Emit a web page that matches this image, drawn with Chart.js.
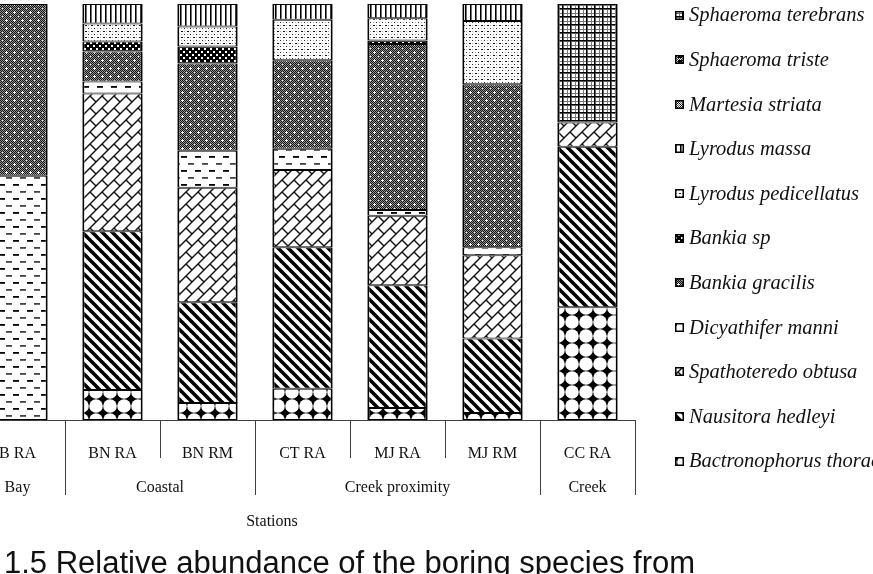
<!DOCTYPE html>
<html>
<head>
<meta charset="utf-8">
<script src="https://cdn.jsdelivr.net/npm/chart.js@4.4.1/dist/chart.umd.min.js"></script>
<style>
  html,body{margin:0;padding:0;background:#fff;overflow:hidden;width:873px;height:574px;}
  #wrap{position:absolute;left:-30px;top:0;width:903px;height:574px;}
  #title{position:absolute;left:4px;top:545px;font:31px "Liberation Sans",Arial,sans-serif;color:#111;white-space:nowrap;line-height:36px;}
</style>
</head>
<body>
<div id="wrap"><canvas id="c" width="903" height="574" style="width:903px;height:574px"></canvas></div>
<div id="title">1.5 Relative abundance of the boring species from</div>
<script>
// ---------- data ----------
const categories = ['B RA','BN RA','BN RM','CT RA','MJ RA','MJ RM','CC RA'];
const groupNames = ['Bay','Coastal','Creek proximity','Creek'];
const groupSizes = [1,2,3,1];
const axisTitle = 'Stations';

// series listed bottom-of-stack first (values in %)
const bactronophorusThoracites = [0, 7.2, 4.1, 7.5, 2.9, 1.7, 27.1];
const nausitoraHedleyi         = [0, 38.2, 24.2, 34.0, 29.5, 17.9, 38.6];
const spathoteredoObtusa       = [0, 33.1, 27.5, 18.6, 16.7, 20.0, 5.8];
const dicyathiferManni         = [58.7, 2.9, 8.9, 5.1, 1.4, 1.9, 0];
const bankiaGracilis           = [41.3, 7.2, 21.0, 21.3, 39.9, 39.2, 0];
const bankiaSp                 = [0, 2.4, 4.1, 0, 0.8, 0, 0];
const lyrodusPedicellatus      = [0, 4.3, 4.8, 9.7, 5.4, 15.2, 0];
const lyrodusMassa             = [0, 4.7, 5.4, 3.8, 3.4, 4.1, 0];
const martesiaStriata          = [0, 0, 0, 0, 0, 0, 0];
const sphaeromaTriste          = [0, 0, 0, 0, 0, 0, 0];
const sphaeromaTerebrans       = [0, 0, 0, 0, 0, 0, 28.5];

const seriesNames = ['Bactronophorus thoracites','Nausitora hedleyi','Spathoteredo obtusa','Dicyathifer manni',
  'Bankia gracilis','Bankia sp','Lyrodus pedicellatus','Lyrodus massa','Martesia striata','Sphaeroma triste','Sphaeroma terebrans'];
const seriesValues = [bactronophorusThoracites,nausitoraHedleyi,spathoteredoObtusa,dicyathiferManni,
  bankiaGracilis,bankiaSp,lyrodusPedicellatus,lyrodusMassa,martesiaStriata,sphaeromaTriste,sphaeromaTerebrans];

// ---------- patterns ----------
function tile(w,h,draw){const c=document.createElement('canvas');c.width=w;c.height=h;const g=c.getContext('2d');g.fillStyle='#fff';g.fillRect(0,0,w,h);draw(g,w,h);return g.createPattern(c,'repeat');}
function pixels(w,h,fn){return tile(w,h,(g)=>{const im=g.getImageData(0,0,w,h);for(let y=0;y<h;y++)for(let x=0;x<w;x++){const v=fn(x,y);const i=(y*w+x)*4;im.data[i]=im.data[i+1]=im.data[i+2]=v;im.data[i+3]=255;}g.putImageData(im,0,0);});}
const patterns = [
  // Bactronophorus: black stars between white circles
  tile(14,14,(g,s)=>{g.fillStyle='#000';g.fillRect(0,0,s,s);g.fillStyle='#fff';[[0,0],[s,0],[0,s],[s,s]].forEach(([a,b])=>{g.beginPath();g.arc(a,b,6.8,0,Math.PI*2);g.fill();});}),
  // Nausitora: wide downward diagonal stripes
  tile(10,10,(g,s)=>{g.strokeStyle='#000';g.lineWidth=3.6;for(const o of [-s,0,s]){g.beginPath();g.moveTo(o-1,-1);g.lineTo(o+s+1,s+1);g.stroke();}}),
  // Spathoteredo: diagonal brick
  tile(12,12,(g,s)=>{g.strokeStyle='#111';g.lineWidth=1.4;for(const o of [0,s,2*s]){g.beginPath();g.moveTo(o-s-1,s+1);g.lineTo(o+1,-1);g.stroke();}g.beginPath();g.moveTo(0,0);g.lineTo(s/2,s/2);g.stroke();}),
  // Dicyathifer: staggered dashes
  tile(14,14,(g)=>{g.fillStyle='#000';g.fillRect(1,2,6,1.8);g.fillStyle='#444';g.fillRect(8,9,6,1.8);}),
  // Bankia gracilis: dense grey with white crosses
  pixels(8,8,(x,y)=>{ if((x===4&&y>=3&&y<=5)||(y===4&&x>=3&&x<=5)) return 255; if(x===0&&y===0) return 255; return ((x+y)%2===0)?15:150;}),
  // Bankia sp: bold checker
  pixels(6,6,(x,y)=>{const a=(x<2&&y<2)||(x>=3&&x<5&&y>=3&&y<5);return a?255:0;}),
  // Lyrodus pedicellatus: dots
  pixels(6,6,(x,y)=>{ if((x===1||x===2)&&(y===1)) return 20; if((x===4)&&(y===4)) return 40; if((x===4&&y===1)||(x===1&&y===4)) return 170; return 255;}),
  // Lyrodus massa: vertical lines
  pixels(5,4,(x)=> x===0?0:(x===1?110:255)),
  // Martesia striata
  pixels(6,6,(x,y)=> ((x+y)%6===0||(x-y+6)%6===0)?0:(((x+y)%2===0)?90:255)),
  // Sphaeroma triste
  pixels(6,6,(x,y)=> (x<=3&&y<=3&&!(x===2&&y===2))?0:((x+y)%2===0?60:255)),
  // Sphaeroma terebrans: grid
  pixels(8,8,(x,y)=> (x===0||y===0)?0:((x===1||y===1)?90:((x===5||y===5)?120:255)))
];

const datasets = seriesNames.map((n,i)=>({
  label:n, data:seriesValues[i], backgroundColor:patterns[i], borderColor:'#000',
  borderWidth:{left:2,right:2,top:1,bottom:1}, borderSkipped:false,
  categoryPercentage:1.0, barPercentage:0.635
}));

// ---------- extra drawing: category separators, groups, axis title, legend ----------
const extras = {
  id:'extras',
  afterDraw(chart){
    const {ctx, chartArea} = chart; const x = chart.scales.x;
    const base = chartArea.bottom;
    const step = x.getPixelForValue(1) - x.getPixelForValue(0);
    ctx.save();
    ctx.strokeStyle='#404040'; ctx.lineWidth=1;
    const ends = []; let acc=-1; groupSizes.forEach(s=>{acc+=s; ends.push(acc);});
    const boundaries = [-1].concat(categories.map((c,i)=>i));
    boundaries.forEach(i=>{
      const px = Math.round(x.getPixelForValue(0) + (i+0.5)*step) + 0.5;
      const long = (i===-1) || ends.includes(i);
      ctx.beginPath(); ctx.moveTo(px, base); ctx.lineTo(px, base + (long?75:38)); ctx.stroke();
    });
    // group labels
    ctx.fillStyle='#111'; ctx.font='16px "Liberation Serif", "Times New Roman", serif';
    ctx.textAlign='center'; ctx.textBaseline='middle';
    let start=0;
    groupNames.forEach((g,k)=>{
      const a = x.getPixelForValue(start), b = x.getPixelForValue(start+groupSizes[k]-1);
      ctx.fillText(g, (a+b)/2, base + 68);
      start += groupSizes[k];
    });
    // axis title
    ctx.fillText(axisTitle, 302, 522);
    // legend (top item = last series)
    ctx.textAlign='left';
    ctx.font='italic 20.5px "Liberation Serif", "Times New Roman", serif';
    const n = seriesNames.length;
    for(let k=0;k<n;k++){
      const i = n-1-k;
      const cy = 15 + k*44.6;
      const top = Math.round(cy-4.5);
      ctx.fillStyle = patterns[i];
      ctx.fillRect(705, top, 9, 9);
      ctx.strokeStyle='#000'; ctx.lineWidth=1.5;
      ctx.strokeRect(705.75, top+0.75, 7.5, 7.5);
      ctx.fillStyle='#111';
      ctx.fillText(seriesNames[i], 719, cy+1);
    }
    ctx.restore();
  }
};

new Chart(document.getElementById('c'), {
  type:'bar',
  data:{labels:categories, datasets},
  plugins:[extras],
  options:{
    responsive:false, animation:false, devicePixelRatio:1,
    layout:{padding:{left:0,right:238,top:4,bottom:0}},
    plugins:{legend:{display:false}, tooltip:{enabled:false}},
    scales:{
      x:{stacked:true, offset:true,
         grid:{display:false, drawTicks:false},
         border:{display:true,color:'#404040',width:1},
         ticks:{color:'#111', padding:24, maxRotation:0, autoSkip:false,
                font:{family:'"Liberation Serif", "Times New Roman", serif', size:16}},
         afterFit(s){ s.height = 154; }
      },
      y:{stacked:true, display:false, min:0, max:100}
    }
  }
});
</script>
</body>
</html>
